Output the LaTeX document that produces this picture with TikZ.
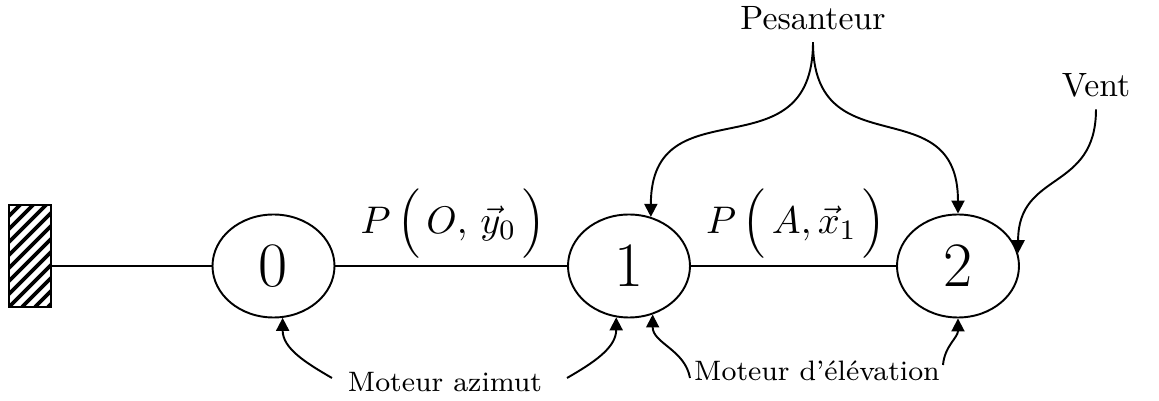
\documentclass[tikz,border=0pt]{standalone}
\usepackage{amsmath}
\usepackage{fontspec}
\usetikzlibrary{arrows.meta, shapes.geometric}

\begin{document}
\begin{tikzpicture}[
    noeud/.style={draw, ellipse, line width=0.55pt, inner sep=0pt,
                  minimum width=1.22cm, minimum height=1.03cm,
                  font=\fontsize{18}{20}\selectfont},
    liaison/.style={font=\fontsize{11}{13}\selectfont},
    effort/.style={font=\fontsize{9.6}{11}\selectfont},
    moteur/.style={font=\fontsize{8}{9}\selectfont},
    fl/.style={-{Triangle[length=1.3mm, width=1.3mm]}, line width=0.55pt},
    bati/.style={draw, line width=0.5pt, inner sep=0pt,
                 minimum width=0.42cm, minimum height=1.02cm,
                 path picture={\foreach \k in {-9,...,4}
                   \draw[line width=1.1pt] ([xshift=\k*1.3mm]path picture bounding box.south west) -- ++(1.3,1.3);}}]
    \useasboundingbox (0,0) rectangle (11.59,4.01);
    % solides
    \node[bati] (sol) at (0.30,1.45) {};
    \node[noeud] (s0) at (2.735,1.35) {0};
    \node[noeud] (s1) at (6.29,1.35) {1};
    \node[noeud] (s2) at (9.58,1.35) {2};
    \draw[line width=0.55pt] (s0.west -| sol.east) -- (s0.west);
    \draw[line width=0.55pt] (s0) -- (s1);
    \draw[line width=0.55pt] (s1) -- (s2);
    \node[liaison] (p01) at (4.53,1.77) {$P\,\Bigl(\,O,\,\vec{y}_0\,\Bigr)$};
    \node[liaison] (p12) at (7.96,1.77) {$P\,\Bigl(\,A,\vec{x}_1\,\Bigr)$};
    % actions exterieures
    \node[effort] (pes) at (8.13,3.83) {Pesanteur};
    \node[effort] (vent) at (10.96,3.16) {Vent};
    \draw[fl] (pes.south) to[out=-90, in=90, looseness=1.45] (s1.66);
    \draw[fl] (pes.south) to[out=-90, in=90, looseness=1.45] (s2.90);
    \draw[fl] (vent.south) to[out=-90, in=90, looseness=1.3] (s2.12);
    % moteurs
    \node[moteur] (azimut) at (4.45,0.19) {Moteur azimut};
    \node[moteur] (elev) at (8.17,0.30) {Moteur d’élévation};
    \coordinate (az1) at (3.32,0.23);
    \coordinate (az2) at (5.67,0.23);
    \coordinate (el1) at (6.90,0.23);
    \coordinate (el2) at (9.43,0.36);
    \draw[fl] (az1) to[out=150, in=-90] (s0.-80);
    \draw[fl] (az2) to[out=30, in=-90] (s1.-104);
    \draw[fl] (el1) to[out=100, in=-90] (s1.-64);
    \draw[fl] (el2) to[out=85, in=-90] (s2.-90);
\end{tikzpicture}
\end{document}
